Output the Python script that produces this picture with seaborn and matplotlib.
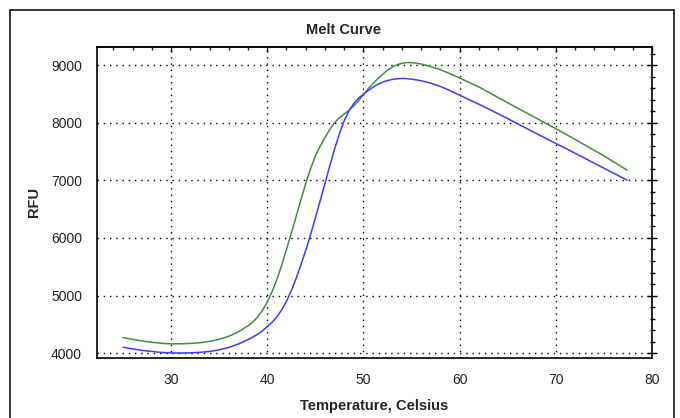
import matplotlib
matplotlib.use("Agg")
import matplotlib.pyplot as plt
from matplotlib.ticker import MultipleLocator
from matplotlib.lines import Line2D
import pandas as pd
import seaborn as sns

# Data
temps = [25, 26, 27, 28, 29, 30, 31, 32, 33, 34, 35, 36, 37, 38,
         38.5, 39, 39.5, 40, 40.5, 41, 41.5, 42, 42.5, 43, 43.5, 44, 44.5,
         45, 45.5, 46, 46.5, 47, 47.5, 48, 48.5, 49, 49.5, 50, 50.5, 51,
         51.5, 52, 52.5, 53, 53.5, 54, 54.5, 55, 55.5, 56,
         57, 58, 59, 60, 62, 65, 68, 70, 72, 75, 77.4]
green_rfu = [4270, 4240, 4212, 4190, 4172, 4163, 4163, 4170, 4182, 4205, 4240, 4295, 4370, 4475,
             4540, 4628, 4743, 4888, 5066, 5278, 5526, 5801, 6080, 6370, 6660, 6945, 7200,
             7420, 7590, 7740, 7880, 8000, 8085, 8150, 8215, 8290, 8380, 8490, 8590, 8680,
             8765, 8840, 8910, 8965, 9005, 9030, 9043, 9042, 9032, 9018,
             8975, 8920, 8850, 8775, 8620, 8345, 8075, 7895, 7710, 7425, 7177]
blue_rfu = [4104, 4075, 4050, 4030, 4013, 4005, 4003, 4006, 4015, 4030, 4058, 4100, 4160, 4235,
            4280, 4330, 4390, 4461, 4536, 4631, 4751, 4901, 5084, 5297, 5532, 5785, 6055,
            6343, 6643, 6948, 7251, 7541, 7806, 8036, 8206, 8336, 8425, 8495, 8560, 8615,
            8665, 8703, 8731, 8750, 8762, 8767, 8764, 8755, 8742, 8727,
            8685, 8630, 8555, 8477, 8320, 8070, 7810, 7640, 7470, 7210, 7003]
series_names = ["Green", "Blue"]
series_colors = {"Green": "#3f8f3f", "Blue": "#3c3cff"}
x_ticks = [30, 40, 50, 60, 70, 80]
y_ticks = [4000, 5000, 6000, 7000, 8000, 9000]

df = pd.concat([
    pd.DataFrame({"Temperature": temps, "RFU": green_rfu, "Well": "Green"}),
    pd.DataFrame({"Temperature": temps, "RFU": blue_rfu, "Well": "Blue"}),
])

sns.set_theme(style="white")
plt.rcParams["font.family"] = ["Liberation Sans", "DejaVu Sans"]

fig = plt.figure(figsize=(6.8, 4.18), dpi=100)
fig.patch.set_facecolor("white")
ax = fig.add_axes([97 / 680, 60.3 / 418, (652 - 97) / 680, (357.7 - 46.7) / 418])

sns.lineplot(data=df, x="Temperature", y="RFU", hue="Well", hue_order=series_names,
             palette=series_colors, sort=False, linewidth=1.1, legend=False, ax=ax)

ax.set_xlim(22.3, 80)
ax.set_ylim(3922, 9318)
ax.set_xticks(x_ticks)
ax.set_yticks(y_ticks)
ax.xaxis.set_minor_locator(MultipleLocator(2))
ax.yaxis.set_minor_locator(MultipleLocator(200))

ax.grid(True, which="major", color="black", linestyle=(0, (1, 3.5)), linewidth=1.0)
for s in ax.spines.values():
    s.set_color("black")
    s.set_linewidth(1.2)

ax.tick_params(axis="x", which="major", direction="out", length=3.3, width=1.0,
               colors="black", labelcolor="#222222", labelsize=10, pad=8)
ax.tick_params(axis="x", which="minor", direction="out", length=2.2, width=1.0, colors="black")
ax.tick_params(axis="y", which="major", direction="inout", length=6.5, width=1.0,
               colors="black", labelcolor="#222222", labelsize=10, pad=7.5, right=True)
ax.tick_params(axis="y", which="minor", direction="inout", length=3.6, width=1.0,
               colors="black", right=True)

top = ax.secondary_xaxis("top")
top.set_xticks(x_ticks)
top.xaxis.set_minor_locator(MultipleLocator(2))
top.tick_params(which="major", direction="in", length=3.5, width=1.0, labeltop=False)
top.tick_params(which="minor", direction="in", length=2.2, width=1.0)
top.spines["top"].set_linewidth(1.2)

ax.set_xlabel("Temperature, Celsius", fontsize=10.5, fontweight="bold", labelpad=8)
ax.set_ylabel("RFU", fontsize=10.5, fontweight="bold", labelpad=7)
fig.text(344 / 680, 1 - 30 / 418, "Melt Curve", fontsize=10.5, fontweight="bold",
         ha="center", va="center")

# outer frame
fx0, fx1, fy1 = 10 / 680, 674 / 680, 1 - 10 / 418
for xs, ys in [([fx0, fx0], [0, fy1]), ([fx0, fx1], [fy1, fy1]), ([fx1, fx1], [fy1, 0])]:
    fig.add_artist(Line2D(xs, ys, color="black", linewidth=1.1, transform=fig.transFigure))

fig.savefig("out.png", dpi=100)
